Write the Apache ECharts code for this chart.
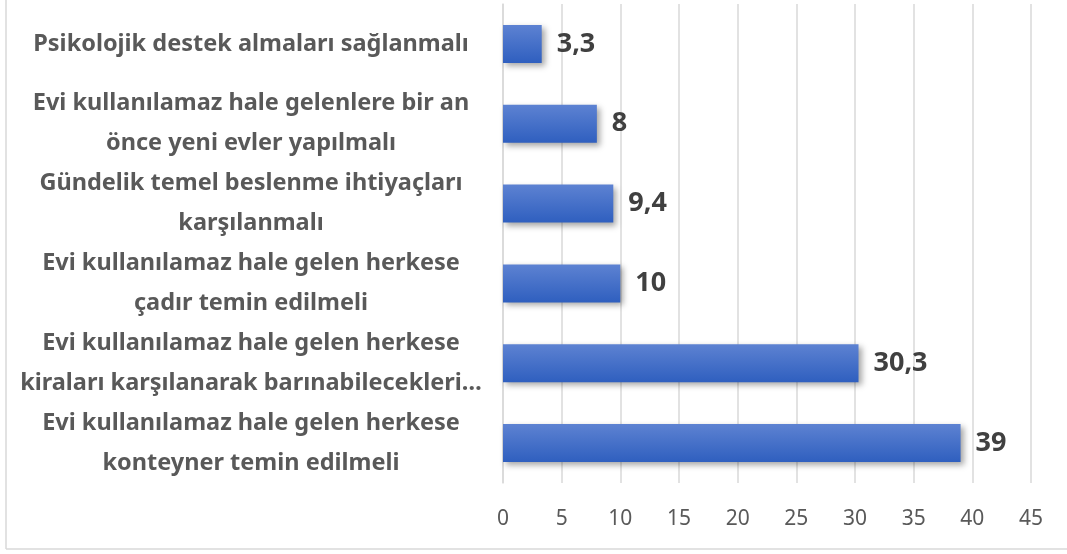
<!DOCTYPE html>
<html><head><meta charset="utf-8">
<script src="https://cdn.jsdelivr.net/npm/echarts@6/dist/echarts.min.js"></script>
<style>html,body{margin:0;padding:0;background:#fff}#c{width:1067px;height:554px}</style>
</head><body><div id="c"></div>
<script>
var categories = [
  "Psikolojik destek almaları sağlanmalı",
  "Evi kullanılamaz hale gelenlere bir an\nönce yeni evler yapılmalı",
  "Gündelik temel beslenme ihtiyaçları\nkarşılanmalı",
  "Evi kullanılamaz hale gelen herkese\nçadır temin edilmeli",
  "Evi kullanılamaz hale gelen herkese\nkiraları karşılanarak barınabilecekleri…",
  "Evi kullanılamaz hale gelen herkese\nkonteyner temin edilmeli"
];
var values = [3.3, 8, 9.4, 10, 30.3, 39];
var axisMin = 0, axisMax = 45, axisStep = 5;

var chart = echarts.init(document.getElementById('c'), null, {renderer: 'canvas'});
chart.setOption({
  animation: false,
  grid: {left: 503, right: 36, top: 4, bottom: 71, containLabel: false},
  xAxis: {
    type: 'value', min: axisMin, max: axisMax, interval: axisStep,
    axisLine: {show: false}, axisTick: {show: false},
    splitLine: {show: true, lineStyle: {color: '#d9d9d9', width: 1.5}},
    axisLabel: {color: '#595959', fontSize: 21, fontFamily: 'Noto Sans', margin: 26}
  },
  yAxis: {
    type: 'category', data: categories, inverse: true,
    axisLine: {show: true, lineStyle: {color: '#d9d9d9', width: 1.5}},
    axisTick: {show: false},
    axisLabel: {
      color: '#595959', fontSize: 23.5, fontWeight: 'bold', fontFamily: 'Noto Sans',
      align: 'center', margin: 252, lineHeight: 40
    }
  },
  series: [{
    type: 'bar', data: values, barWidth: 38,
    itemStyle: {
      color: new echarts.graphic.LinearGradient(0, 0, 0, 1, [
        {offset: 0, color: '#5d82d2'}, {offset: 1, color: '#2f5fbf'}
      ]),
      shadowColor: 'rgba(0,0,0,0.35)', shadowBlur: 6, shadowOffsetX: 3, shadowOffsetY: 3
    },
    label: {
      show: true, position: 'right', distance: 15,
      color: '#404040', fontSize: 27, fontWeight: 'bold', fontFamily: 'Noto Sans',
      formatter: function (p) { return String(p.value).replace('.', ','); }
    }
  }],
  graphic: [
    {type: 'line', shape: {x1: 6, y1: 0, x2: 6, y2: 549}, style: {stroke: '#d9d9d9', lineWidth: 1.5}},
    {type: 'line', shape: {x1: 6, y1: 549, x2: 1067, y2: 549}, style: {stroke: '#d9d9d9', lineWidth: 1.5}}
  ]
});
</script></body></html>
